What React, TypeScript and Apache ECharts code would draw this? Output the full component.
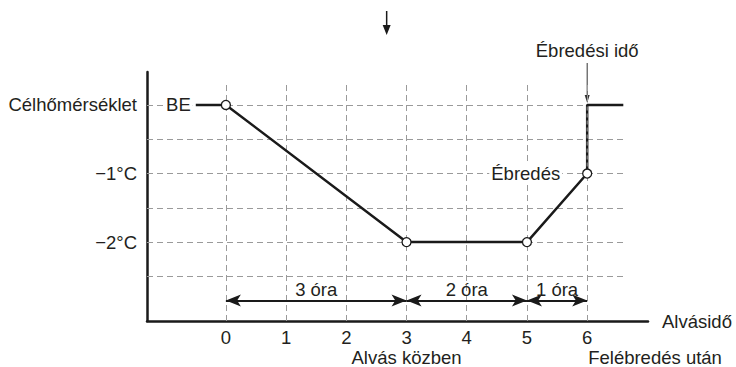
import React, { useEffect, useRef } from "react";
import * as echarts from "echarts";

const xTicks = [0, 1, 2, 3, 4, 5, 6];
const yTicks = [0, -1, -2];
const yTickLabels = ["Célhőmérséklet", "−1°C", "−2°C"];
const gridYLevels = [0, -0.5, -1, -1.5, -2, -2.5];
const gridXLevels = [0, 1, 2, 3, 4, 5, 6];
const profileX = [-0.5, 0, 3, 5, 6, 6, 6.6];
const profileY = [0, 0, -2, -2, -1, 0, 0];
const markerX = [0, 3, 5, 6];
const markerY = [0, -2, -2, -1];
const spanStarts = [0, 3, 5];
const spanEnds = [3, 5, 6];
const spanLabels = ["3 óra", "2 óra", "1 óra"];
const spanLevel = -2.85;
const phaseLabels = ["Alvás közben", "Felébredés után"];
const phaseAt = [3, 6];
const wakeX = 6;
const wakeLabel = "Ébredési idő";
const wakePointLabel = "Ébredés";
const startLabel = "BE";
const xName = "Alvásidő";
const topArrowX = 2.67;

const X_MIN = -1.31;
const X_MAX = 7.01;
const Y_MIN = -3.15;
const Y_MAX = 0.48;
const GRID_TOP = 0.32;
const GRID_RIGHT = 6.6;

const FONT = "'Liberation Sans', Arial, Helvetica, sans-serif";
const FS = 18.5;
const TXT = "#231f20";
const GRIDC = "#9a9a9a";

export default function App() {
  const ref = useRef<HTMLDivElement>(null);
  useEffect(() => {
    if (!ref.current) return;
    const chart = echarts.init(ref.current, null, { renderer: "svg" });
    const gridLines: any[] = [];
    gridYLevels.forEach((y) =>
      gridLines.push([{ coord: [X_MIN, y] }, { coord: [GRID_RIGHT, y] }])
    );
    gridXLevels.forEach((x) =>
      gridLines.push([{ coord: [x, Y_MIN] }, { coord: [x, GRID_TOP] }])
    );
    const spanLines = spanStarts.map((s, i) => [
      { coord: [s, spanLevel], name: spanLabels[i] },
      { coord: [spanEnds[i], spanLevel] },
    ]);

    chart.setOption({
      animation: false,
      textStyle: { fontFamily: FONT },
      grid: { left: 147, right: 88, top: 72, bottom: 46, containLabel: false },
      xAxis: {
        type: "value",
        min: X_MIN,
        max: X_MAX,
        name: xName,
        nameLocation: "end",
        nameGap: 14,
        nameTextStyle: { fontSize: FS, color: TXT, fontFamily: FONT, verticalAlign: "middle" },
        axisLine: { show: true, onZero: false, lineStyle: { color: "#1a1a1a", width: 2.5 } },
        axisTick: { show: false },
        splitLine: { show: false },
        axisLabel: {
          customValues: xTicks,
          fontSize: FS,
          color: TXT,
          margin: 7,
          fontFamily: FONT,
        },
      },
      yAxis: {
        type: "value",
        min: Y_MIN,
        max: Y_MAX,
        axisLine: { show: true, onZero: false, lineStyle: { color: "#1a1a1a", width: 2.5 } },
        axisTick: { show: false },
        splitLine: { show: false },
        axisLabel: {
          customValues: yTicks,
          fontSize: FS,
          color: TXT,
          margin: 10,
          fontFamily: FONT,
          formatter: (v: number) => {
            const i = yTicks.findIndex((t) => Math.abs(t - v) < 1e-6);
            return i >= 0 ? yTickLabels[i] : "";
          },
        },
      },
      series: [
        {
          type: "line",
          z: 1,
          data: [[X_MIN, Y_MIN]],
          symbol: "none",
          lineStyle: { opacity: 0 },
          silent: true,
          markLine: {
            z: 1,
            silent: true,
            symbol: ["none", "none"],
            label: { show: false },
            lineStyle: { color: GRIDC, type: [6, 4], width: 1 },
            emphasis: { disabled: true },
            data: gridLines,
          },
        },
        {
          type: "line",
          z: 3,
          data: profileX.map((x, i) => [x, profileY[i]]),
          symbol: "none",
          lineStyle: { color: "#1a1a1a", width: 2.5 },
          silent: true,
          markPoint: {
            z: 3,
            silent: true,
            symbol: "circle",
            symbolSize: 0,
            data: [
              {
                coord: [profileX[0], profileY[0]],
                label: {
                  show: true,
                  formatter: startLabel,
                  position: "left",
                  distance: 3,
                  fontSize: FS,
                  color: TXT,
                  fontFamily: FONT,
                  backgroundColor: "#fff",
                  padding: [0, 2],
                },
              },
              {
                coord: [wakeX, -1],
                label: {
                  show: true,
                  formatter: wakePointLabel,
                  position: "left",
                  distance: 25,
                  fontSize: FS,
                  color: TXT,
                  fontFamily: FONT,
                  backgroundColor: "#fff",
                  padding: [0, 2],
                },
              },
            ],
          },
          markLine: {
            z: 3,
            silent: true,
            symbol: ["arrow", "arrow"],
            symbolSize: [9, 15],
            lineStyle: { color: "#1a1a1a", type: "solid", width: 2 },
            emphasis: { disabled: true },
            label: {
              show: true,
              position: "middle",
              formatter: "{b}",
              fontSize: FS,
              color: TXT,
              fontFamily: FONT,
              distance: 1,
            },
            data: spanLines,
          },
        },
        {
          type: "line",
          z: 4,
          data: [[wakeX, -1], [wakeX, 0]],
          symbol: "none",
          silent: true,
          lineStyle: { color: "#8a8a8a", type: [4, 3], width: 1.2 },
        },
        {
          type: "scatter",
          z: 6,
          silent: true,
          data: markerX.map((x, i) => [x, markerY[i]]),
          symbol: "circle",
          symbolSize: 9,
          itemStyle: { color: "#fff", borderColor: "#1a1a1a", borderWidth: 1.3, opacity: 1 },
        },
      ],
    });

    const px = (x: number, y: number) =>
      chart.convertToPixel({ gridIndex: 0 }, [x, y]) as number[];
    const wake0 = px(wakeX, 0);
    const topA = px(topArrowX, 0);
    const ph0 = px(phaseAt[0], Y_MIN);
    const ph1 = px(phaseAt[1], Y_MIN);
    const tipY = wake0[1] - 2;
    const topTip = 35;

    chart.setOption({
      graphic: [
        {
          type: "text",
          x: wake0[0],
          y: 50,
          style: {
            text: wakeLabel,
            fill: TXT,
            font: `${FS}px ${FONT}`,
            textAlign: "center",
            textVerticalAlign: "middle",
          },
        },
        {
          type: "line",
          shape: { x1: wake0[0], y1: 63, x2: wake0[0], y2: tipY - 6 },
          style: { stroke: "#333", lineWidth: 1 },
        },
        {
          type: "polygon",
          shape: {
            points: [
              [wake0[0] - 2.5, tipY - 8],
              [wake0[0] + 2.5, tipY - 8],
              [wake0[0], tipY],
            ],
          },
          style: { fill: "#333" },
        },
        {
          type: "line",
          shape: { x1: topA[0], y1: 11, x2: topA[0], y2: topTip - 8 },
          style: { stroke: "#1a1a1a", lineWidth: 1.5 },
        },
        {
          type: "polygon",
          shape: {
            points: [
              [topA[0] - 4, topTip - 10],
              [topA[0] + 4, topTip - 10],
              [topA[0], topTip],
            ],
          },
          style: { fill: "#1a1a1a" },
        },
        {
          type: "text",
          x: ph0[0],
          y: 357,
          style: {
            text: phaseLabels[0],
            fill: TXT,
            font: `${FS}px ${FONT}`,
            textAlign: "center",
            textVerticalAlign: "middle",
          },
        },
        {
          type: "text",
          x: ph1[0] + 1,
          y: 357,
          style: {
            text: phaseLabels[1],
            fill: TXT,
            font: `${FS}px ${FONT}`,
            textAlign: "left",
            textVerticalAlign: "middle",
          },
        },
      ],
    });

    return () => chart.dispose();
  }, []);

  return (
    <div
      ref={ref}
      style={{ position: "fixed", left: 0, top: 0, width: 736, height: 367, background: "#fff" }}
    />
  );
}
